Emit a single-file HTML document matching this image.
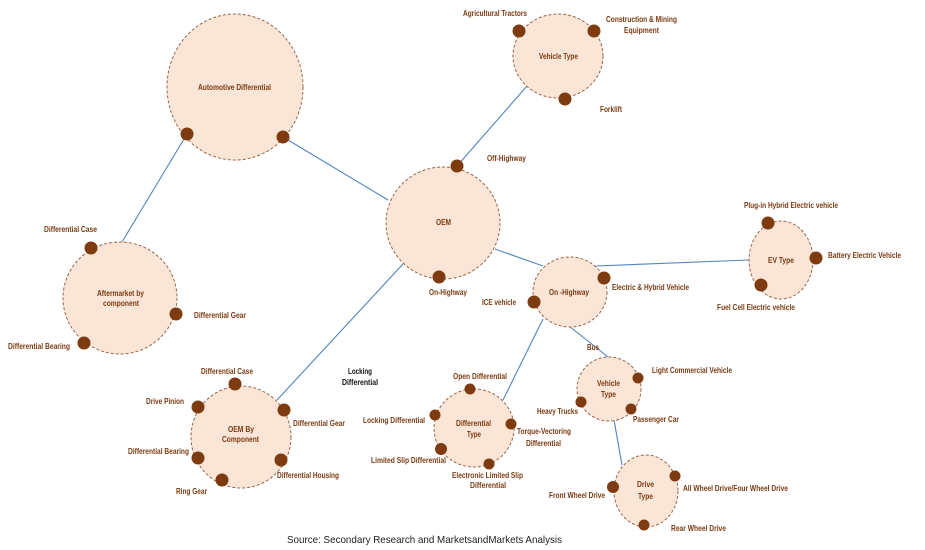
<!DOCTYPE html>
<html><head><meta charset="utf-8"><style>
html,body{margin:0;padding:0;background:#fff;}
svg{display:block;}
.c{fill:#fbe5d6;stroke:#9a6548;stroke-width:1;stroke-dasharray:3 2;}
.d{fill:#7f3b10;}
.l{stroke:#4f84bf;stroke-width:1.1;fill:none;}
text{font-family:"Liberation Sans",Arial,sans-serif;font-weight:bold;font-size:8.5px;fill:#7a3a12;}
text.k{fill:#111;}
text.s{font-weight:normal;font-size:10.5px;fill:#222;}
</style></head><body>
<svg width="925" height="550" viewBox="0 0 925 550" xmlns="http://www.w3.org/2000/svg">
<rect width="925" height="550" fill="#fff"/>
<!-- connectors -->
<line class="l" x1="283" y1="137" x2="388" y2="200"/>
<line class="l" x1="187" y1="134" x2="122" y2="242"/>
<line class="l" x1="457" y1="166" x2="527" y2="86"/>
<line class="l" x1="495" y1="249" x2="543" y2="266"/>
<line class="l" x1="596" y1="266" x2="749" y2="260"/>
<line class="l" x1="403" y1="264" x2="277" y2="400"/>
<line class="l" x1="543" y1="319" x2="503" y2="400"/>
<line class="l" x1="569" y1="326" x2="608" y2="357"/>
<line class="l" x1="614" y1="420" x2="622" y2="465"/>
<!-- circles -->
<ellipse class="c" cx="235" cy="87" rx="68" ry="73"/>
<ellipse class="c" cx="443" cy="223" rx="57" ry="56"/>
<ellipse class="c" cx="558" cy="56" rx="45" ry="42"/>
<ellipse class="c" cx="570" cy="292" rx="37" ry="35"/>
<ellipse class="c" cx="781" cy="260" rx="32" ry="39"/>
<ellipse class="c" cx="120" cy="298" rx="57" ry="56"/>
<ellipse class="c" cx="241" cy="437" rx="50" ry="51"/>
<ellipse class="c" cx="474" cy="428" rx="40" ry="39"/>
<ellipse class="c" cx="609" cy="389" rx="32" ry="32"/>
<ellipse class="c" cx="646" cy="491" rx="32" ry="36"/>
<!-- dots -->
<g class="d">
<circle cx="187" cy="134" r="6.5"/><circle cx="283" cy="137" r="6.5"/>
<circle cx="457" cy="166" r="6.5"/><circle cx="439" cy="277" r="6.5"/>
<circle cx="519" cy="31" r="6.5"/><circle cx="594" cy="31" r="6.5"/><circle cx="565" cy="99" r="6.5"/>
<circle cx="604" cy="278" r="6.5"/><circle cx="534" cy="302" r="6.5"/>
<circle cx="768" cy="223" r="6.5"/><circle cx="816" cy="258" r="6.5"/><circle cx="761" cy="285" r="6.5"/>
<circle cx="91" cy="248" r="6.5"/><circle cx="176" cy="314" r="6.5"/><circle cx="84" cy="343" r="6.5"/>
<circle cx="235" cy="384" r="6.5"/><circle cx="198" cy="407" r="6.5"/><circle cx="284" cy="410" r="6.5"/>
<circle cx="198" cy="458" r="6.5"/><circle cx="281" cy="460" r="6.5"/><circle cx="222" cy="480" r="6.5"/>
<circle cx="470" cy="389" r="5.5"/><circle cx="435" cy="415" r="5.5"/><circle cx="511" cy="424" r="5.5"/>
<circle cx="441" cy="449" r="6"/><circle cx="489" cy="464" r="5.5"/>
<circle cx="638" cy="378" r="5.5"/><circle cx="581" cy="402" r="5.5"/><circle cx="631" cy="409" r="5.5"/>
<circle cx="613" cy="487" r="6"/><circle cx="675" cy="476" r="5.5"/><circle cx="644" cy="525" r="5.5"/>
</g>
<!-- labels -->
<text x="198" y="90" textLength="73" lengthAdjust="spacingAndGlyphs">Automotive Differential</text>
<text x="436" y="225" textLength="15" lengthAdjust="spacingAndGlyphs">OEM</text>
<text x="487" y="161" textLength="39" lengthAdjust="spacingAndGlyphs">Off-Highway</text>
<text x="463" y="16" textLength="64" lengthAdjust="spacingAndGlyphs">Agricultural Tractors</text>
<text x="606" y="22" textLength="71" lengthAdjust="spacingAndGlyphs">Construction &amp; Mining</text>
<text x="624" y="33" textLength="35" lengthAdjust="spacingAndGlyphs">Equipment</text>
<text x="539" y="59" textLength="39" lengthAdjust="spacingAndGlyphs">Vehicle Type</text>
<text x="600" y="112" textLength="22" lengthAdjust="spacingAndGlyphs">Forklift</text>
<text x="744" y="208" textLength="94" lengthAdjust="spacingAndGlyphs">Plug-in Hybrid Electric vehicle</text>
<text x="768" y="263" textLength="26" lengthAdjust="spacingAndGlyphs">EV Type</text>
<text x="828" y="258" textLength="73" lengthAdjust="spacingAndGlyphs">Battery Electric Vehicle</text>
<text x="612" y="290" textLength="77" lengthAdjust="spacingAndGlyphs">Electric &amp; Hybrid Vehicle</text>
<text x="717" y="310" textLength="78" lengthAdjust="spacingAndGlyphs">Fuel Cell  Electric vehicle</text>
<text x="44" y="232" textLength="53" lengthAdjust="spacingAndGlyphs">Differential Case</text>
<text x="97" y="296" textLength="47" lengthAdjust="spacingAndGlyphs">Aftermarket by</text>
<text x="103" y="306" textLength="36" lengthAdjust="spacingAndGlyphs">component</text>
<text x="194" y="318" textLength="52" lengthAdjust="spacingAndGlyphs">Differential Gear</text>
<text x="8" y="349" textLength="62" lengthAdjust="spacingAndGlyphs">Differential Bearing</text>
<text x="429" y="295" textLength="38" lengthAdjust="spacingAndGlyphs">On-Highway</text>
<text x="482" y="305" textLength="34" lengthAdjust="spacingAndGlyphs">ICE vehicle</text>
<text x="549" y="295" textLength="40" lengthAdjust="spacingAndGlyphs">On -Highway</text>
<text x="201" y="374" textLength="52" lengthAdjust="spacingAndGlyphs">Differential Case</text>
<text x="146" y="404" textLength="38" lengthAdjust="spacingAndGlyphs">Drive Pinion</text>
<text x="293" y="426" textLength="52" lengthAdjust="spacingAndGlyphs">Differential Gear</text>
<text x="228" y="432" textLength="26" lengthAdjust="spacingAndGlyphs">OEM  By</text>
<text x="222" y="442" textLength="37" lengthAdjust="spacingAndGlyphs">Component</text>
<text x="128" y="454" textLength="61" lengthAdjust="spacingAndGlyphs">Differential Bearing</text>
<text x="277" y="478" textLength="62" lengthAdjust="spacingAndGlyphs">Differential Housing</text>
<text x="176" y="494" textLength="31" lengthAdjust="spacingAndGlyphs">Ring Gear</text>
<text class="k" x="348" y="374" textLength="24" lengthAdjust="spacingAndGlyphs">Locking</text>
<text class="k" x="342" y="385" textLength="36" lengthAdjust="spacingAndGlyphs">Differential</text>
<text x="453" y="379" textLength="54" lengthAdjust="spacingAndGlyphs">Open Differential</text>
<text x="363" y="423" textLength="62" lengthAdjust="spacingAndGlyphs">Locking Differential</text>
<text x="456" y="426" textLength="35" lengthAdjust="spacingAndGlyphs">Differential</text>
<text x="467" y="437" textLength="14" lengthAdjust="spacingAndGlyphs">Type</text>
<text x="517" y="434" textLength="54" lengthAdjust="spacingAndGlyphs">Torque-Vectoring</text>
<text x="526" y="446" textLength="35" lengthAdjust="spacingAndGlyphs">Differential</text>
<text x="371" y="463" textLength="75" lengthAdjust="spacingAndGlyphs">Limited Slip Differential</text>
<text x="452" y="478" textLength="71" lengthAdjust="spacingAndGlyphs">Electronic Limited Slip</text>
<text x="470" y="488" textLength="36" lengthAdjust="spacingAndGlyphs">Differential</text>
<text x="587" y="350" textLength="12" lengthAdjust="spacingAndGlyphs">Bus</text>
<text x="652" y="373" textLength="80" lengthAdjust="spacingAndGlyphs">Light Commercial Vehicle</text>
<text x="597" y="386" textLength="23" lengthAdjust="spacingAndGlyphs">Vehicle</text>
<text x="601" y="397" textLength="15" lengthAdjust="spacingAndGlyphs">Type</text>
<text x="537" y="414" textLength="41" lengthAdjust="spacingAndGlyphs">Heavy Trucks</text>
<text x="633" y="422" textLength="46" lengthAdjust="spacingAndGlyphs">Passenger Car</text>
<text x="637" y="487" textLength="17" lengthAdjust="spacingAndGlyphs">Drive</text>
<text x="638" y="499" textLength="15" lengthAdjust="spacingAndGlyphs">Type</text>
<text x="549" y="498" textLength="56" lengthAdjust="spacingAndGlyphs">Front Wheel Drive</text>
<text x="683" y="491" textLength="105" lengthAdjust="spacingAndGlyphs">All Wheel Drive/Four Wheel Drive</text>
<text x="671" y="531" textLength="55" lengthAdjust="spacingAndGlyphs">Rear  Wheel Drive</text>
<text class="s" x="287" y="543" textLength="275" lengthAdjust="spacingAndGlyphs">Source: Secondary Research and MarketsandMarkets Analysis</text>
</svg>
</body></html>
